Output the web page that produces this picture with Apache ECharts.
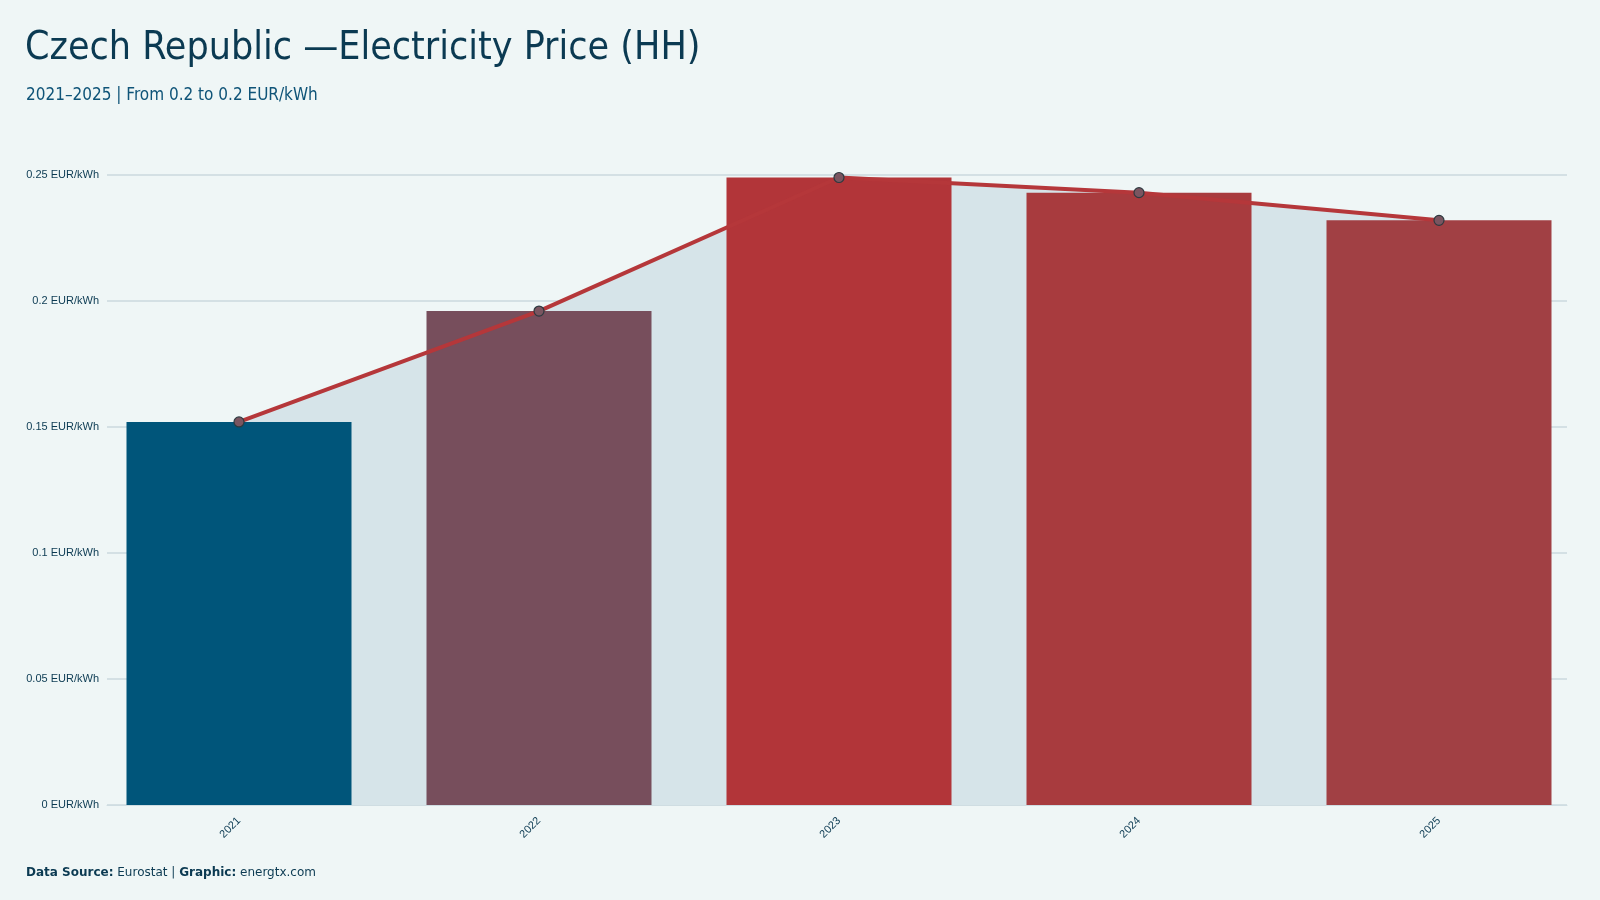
<!DOCTYPE html>
<html>
<head>
<meta charset="utf-8">
<script src="https://cdn.jsdelivr.net/npm/echarts@6/dist/echarts.min.js"></script>
<style>
html,body{margin:0;padding:0;background:#eff6f6;}
#chart{width:1600px;height:900px;}
</style>
</head>
<body>
<div id="chart"></div>
<script>
var years = ["2021", "2022", "2023", "2024", "2025"];
var prices = [0.152, 0.196, 0.249, 0.243, 0.232];
var barColors = ["#00557a", "#774e5c", "#b23539", "#a83b3e", "#a14044"];

var chart = echarts.init(document.getElementById("chart"));
var font = "'Liberation Sans Narrow', 'DejaVu Sans Condensed', sans-serif";

chart.setOption({
    backgroundColor: "#eff6f6",
    title: [
        {
            text: "Czech Republic \u2014Electricity Price (HH)",
            left: 20, top: 24,
            textStyle: { fontFamily: font, fontSize: 39, fontWeight: "normal", color: "#0b3a52" }
        },
        {
            text: "2021\u20132025 | From 0.2 to 0.2 EUR/kWh",
            left: 21, top: 82,
            textStyle: { fontFamily: font, fontSize: 17, fontWeight: "normal", color: "#0f5478" }
        },
        {
            text: "{b|Data Source:} Eurostat | {b|Graphic:} energtx.com",
            left: 21, top: 862,
            textStyle: {
                fontFamily: "'DejaVu Sans', sans-serif", fontSize: 12, fontWeight: "normal", color: "#0b3a52",
                rich: { b: { fontWeight: "bold", fontSize: 12, color: "#0b3a52", fontFamily: "'DejaVu Sans', sans-serif" } }
            }
        }
    ],
    grid: [
        { left: 89, right: 11, top: 175, bottom: 95 },
        { left: 107, right: 33, top: 175, bottom: 95 }
    ],
    xAxis: [
        {
            type: "category", gridIndex: 0,
            data: years,
            axisLine: { show: false },
            axisTick: { show: false },
            axisLabel: { rotate: 45, color: "#0b3a52", fontSize: 11, margin: 14 }
        },
        {
            type: "category", gridIndex: 1, data: years,
            axisLine: { lineStyle: { color: "#cfdde2" } },
            axisTick: { show: false }, axisLabel: { show: false }
        }
    ],
    yAxis: [
        {
            type: "value", gridIndex: 0,
            min: 0, max: 0.25, interval: 0.05,
            axisLabel: { show: false },
            splitLine: { show: false }
        },
        {
            type: "value", gridIndex: 1,
            min: 0, max: 0.25, interval: 0.05,
            axisLabel: {
                color: "#0b3a52", fontSize: 11,
                formatter: function (v) { return +v.toFixed(2) + " EUR/kWh"; }
            },
            splitLine: { lineStyle: { color: "#cbd9de", width: 1.5 } }
        }
    ],
    series: [
        {
            type: "line",
            data: prices,
            z: 1,
            lineStyle: { opacity: 0 },
            symbol: "none",
            areaStyle: { color: "#d6e4e9", opacity: 1 }
        },
        {
            type: "bar",
            data: prices.map(function (v, i) { return { value: v, itemStyle: { color: barColors[i] } }; }),
            barWidth: "75%",
            z: 2
        },
        {
            type: "line",
            data: prices,
            z: 3,
            lineStyle: { color: "#b5373a", width: 4 },
            symbol: "circle",
            symbolSize: 10,
            itemStyle: { color: "#7a5560", borderColor: "#2d3a40", borderWidth: 1.2 }
        }
    ]
});
</script>
</body>
</html>
